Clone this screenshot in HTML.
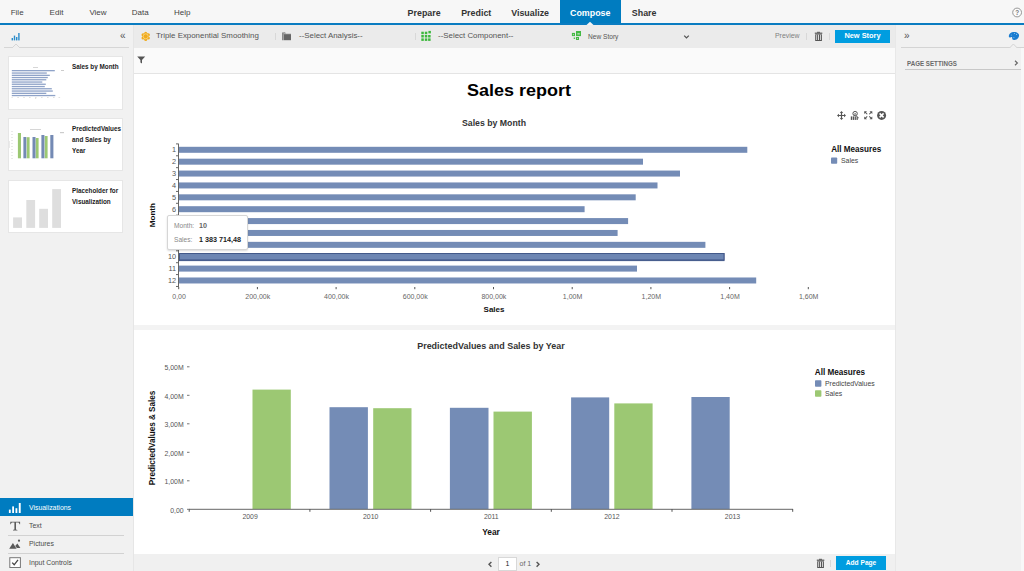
<!DOCTYPE html>
<html><head><meta charset="utf-8">
<style>
*{box-sizing:border-box;margin:0;padding:0}
html,body{width:1024px;height:571px;overflow:hidden;background:#f0f0f0;font-family:"Liberation Sans",sans-serif;font-size:8px;color:#333}
.abs{position:absolute}
#menubar{left:0;top:0;width:1024px;height:23px;background:#f7f7f7}
#blueline{left:0;top:23px;width:1024px;height:2px;background:#0a7cc1}
.menu{top:7.6px;font-size:8px;color:#444}
.tab{top:7.5px;font-size:8.9px;font-weight:bold;color:#333;line-height:11px}
#compose{left:560px;top:0;width:61px;height:24px;background:#007cc0}
#leftpanel{left:0;top:25px;width:133px;height:546px;background:#f1f1f1}
#toolbar{left:133px;top:25px;width:762px;height:23px;background:#ebebeb}
#filterbar{left:133px;top:48px;width:762px;height:26px;background:#fafafa;border-bottom:1px solid #e4e4e4}
#canvas{left:134px;top:74px;width:761px;height:480px;background:#fff}
#divider{left:134px;top:324.5px;width:761px;height:5.5px;background:#f3f3f3}
#bottombar{left:133px;top:554.5px;width:762px;height:17px;background:#f0f0f0}
#rightpanel{left:895px;top:25px;width:129px;height:546px;background:#f1f1f1}
.card{left:8px;width:115px;height:53px;background:#fff;border:1px solid #e6e6e6}
.tbt{top:31.2px;font-size:7.9px;color:#555;white-space:nowrap}
.sep{top:33px;width:1px;height:7px;background:#d8d8d8}
.ll{font-size:6.9px;color:#4a4a4a;white-space:nowrap}
.lsep{left:8px;width:116px;height:1px;background:#d2d2d2}
.cardt{font-size:6.35px;font-weight:bold;color:#222;line-height:11px}
</style></head><body>
<div class="abs" id="menubar"></div>
<div class="abs menu" style="left:10.7px">File</div>
<div class="abs menu" style="left:49.6px">Edit</div>
<div class="abs menu" style="left:89.4px">View</div>
<div class="abs menu" style="left:131.8px">Data</div>
<div class="abs menu" style="left:174px">Help</div>
<div class="abs" id="compose"></div>
<div class="abs tab" style="left:407.6px">Prepare</div>
<div class="abs tab" style="left:461.2px">Predict</div>
<div class="abs tab" style="left:511.2px">Visualize</div>
<div class="abs tab" style="left:570px;color:#fff">Compose</div>
<div class="abs tab" style="left:631.8px">Share</div>
<div class="abs" id="blueline"></div>
<svg class="abs" style="left:1011px;top:6px" width="13" height="13" viewBox="0 0 13 13" font-family="Liberation Sans, sans-serif"><circle cx="6.1" cy="6.5" r="4.4" fill="#fbfbfb" stroke="#8a8a8a" stroke-width="0.9"/><text x="6.1" y="8.8" font-size="6.4" font-weight="bold" fill="#777" text-anchor="middle">?</text></svg>
<svg class="abs" style="left:586px;top:21px" width="8" height="4" viewBox="0 0 8 4"><path d="M0.5 4 L4 0.8 L7.5 4 Z" fill="#f4f4f4"/></svg>
<div class="abs" id="leftpanel"></div>

<!-- left panel content -->
<svg class="abs" style="left:11px;top:32px" width="10" height="9" viewBox="0 0 10 9"><g fill="#2a8ccb"><rect x="0.6" y="6" width="1.4" height="2.4"/><rect x="2.8" y="3.6" width="1.4" height="4.8"/><rect x="5" y="5" width="1.4" height="3.4"/><rect x="7.2" y="1" width="1.4" height="7.4"/></g></svg>
<div class="abs" style="left:120px;top:30px;font-size:10px;color:#555">&laquo;</div>
<div class="abs" style="left:4px;top:47px;width:125px;height:1px;background:#d6d6d6"></div>
<svg class="abs" style="left:12px;top:43px" width="8" height="5" viewBox="0 0 8 5"><path d="M0 5 L4 1 L8 5" fill="#f0f0f0" stroke="#d6d6d6" stroke-width="1"/></svg>
<div class="abs card" style="top:56px;height:54px"></div>
<div class="abs card" style="top:118px"></div>
<div class="abs card" style="top:180px"></div>
<div class="abs cardt" style="left:72px;top:61px">Sales by Month</div>
<div class="abs cardt" style="left:72px;top:123px">PredictedValues<br>and Sales by<br>Year</div>
<div class="abs cardt" style="left:72px;top:185px">Placeholder for<br>Visualization</div>
<svg class="abs" style="left:8px;top:56px" width="64" height="52" viewBox="0 0 64 52">
<g fill="#8fa3c8">
<rect x="3.8" y="14" width="43" height="1.3"/>
<rect x="3.8" y="16.4" width="35" height="1.3"/>
<rect x="3.8" y="18.7" width="38" height="1.3"/>
<rect x="3.8" y="20.9" width="36" height="1.3"/>
<rect x="3.8" y="23.1" width="34.5" height="1.3"/>
<rect x="3.8" y="25.4" width="30.5" height="1.3"/>
<rect x="3.8" y="27.6" width="34" height="1.3"/>
<rect x="3.8" y="29.9" width="33" height="1.3"/>
<rect x="3.8" y="32.1" width="40" height="1.3"/>
<rect x="3.8" y="34.4" width="41" height="1.3"/>
<rect x="3.8" y="36.7" width="34.5" height="1.3"/>
<rect x="3.8" y="38.9" width="43.5" height="1.3"/>
</g>
<rect x="25" y="11" width="5" height="0.6" fill="#bbb"/>
<rect x="53" y="14" width="3" height="1" fill="#ccc"/>
<g fill="#ccc"><rect x="3.5" y="41.2" width="1.2" height="0.6"/><rect x="9.3" y="41.2" width="1.6" height="0.6"/><rect x="15.2" y="41.2" width="1.6" height="0.6"/><rect x="21" y="41.2" width="1.6" height="0.6"/><rect x="27" y="41.2" width="1.6" height="0.6"/><rect x="33" y="41.2" width="1.6" height="0.6"/><rect x="39" y="41.2" width="1.6" height="0.6"/><rect x="45" y="41.2" width="1.6" height="0.6"/><rect x="50.5" y="41.2" width="1.6" height="0.6"/><rect x="27" y="42.4" width="1.2" height="0.6"/></g>
</svg>
<svg class="abs" style="left:8px;top:118px" width="64" height="52" viewBox="0 0 64 52">
<g fill="#9cc873">
<rect x="9.9" y="15" width="3.1" height="25.3"/>
<rect x="18.7" y="19.2" width="2.9" height="21.1"/>
<rect x="27.7" y="20" width="2.9" height="20.3"/>
<rect x="36.7" y="18" width="2.9" height="22.3"/>
</g>
<g fill="#748ab4">
<rect x="15.4" y="19" width="2.9" height="21.3"/>
<rect x="24.5" y="19" width="3" height="21.3"/>
<rect x="33.4" y="17" width="3" height="23.3"/>
<rect x="42.3" y="17" width="3.1" height="23.3"/>
</g>
<rect x="22" y="11" width="11" height="0.6" fill="#bbb"/>
<rect x="52" y="14" width="4" height="1.2" fill="#ccc"/>
<g fill="#ddd"><rect x="3" y="13" width="2" height="0.6"/><rect x="3" y="16" width="2" height="0.6"/><rect x="3" y="19" width="2" height="0.6"/><rect x="3" y="22" width="2" height="0.6"/><rect x="3" y="25" width="2" height="0.6"/><rect x="3" y="28" width="2" height="0.6"/><rect x="3" y="31" width="2" height="0.6"/><rect x="3" y="34" width="2" height="0.6"/><rect x="3" y="37" width="2" height="0.6"/><rect x="3" y="40" width="2" height="0.6"/><rect x="1.2" y="23" width="0.6" height="7"/></g>
</svg>
<svg class="abs" style="left:8px;top:180px" width="64" height="52" viewBox="0 0 64 52">
<g fill="#dedede">
<rect x="5.1" y="37.4" width="8.9" height="10.5"/>
<rect x="18.3" y="20" width="8.8" height="27.9"/>
<rect x="31.2" y="28.8" width="8.8" height="19.1"/>
<rect x="44.2" y="9.1" width="8.8" height="38.8"/>
</g></svg>
<div class="abs" id="toolbar"></div>

<!-- toolbar content -->
<svg class="abs" style="left:140px;top:30px" width="12" height="12" viewBox="0 0 12 12"><g fill="#f0ab1c"><circle cx="5.7" cy="6.3" r="3.2"/><circle cx="5.7" cy="3.2" r="1.5"/><circle cx="5.7" cy="9.4" r="1.5"/><circle cx="3" cy="4.7" r="1.5"/><circle cx="8.4" cy="4.7" r="1.5"/><circle cx="3" cy="7.9" r="1.5"/><circle cx="8.4" cy="7.9" r="1.5"/></g><circle cx="5.7" cy="6.3" r="2.5" fill="none" stroke="#f9dc9c" stroke-width="0.7"/></svg>
<div class="abs tbt" style="left:156px">Triple Exponential Smoothing</div>
<div class="abs sep" style="left:275px"></div>
<svg class="abs" style="left:282px;top:32px" width="10" height="9" viewBox="0 0 10 9"><path d="M0 0.6 L0 8.2 L1.6 8.2 L1.6 1.6 L4 1.6 L3 0.2 Z" fill="#8a8a8a"/><rect x="1.8" y="1.9" width="7.2" height="6.3" fill="#666"/><rect x="1.8" y="1.9" width="7.2" height="1" fill="#7a7a7a"/></svg>
<div class="abs tbt" style="left:299px">--Select Analysis--</div>
<div class="abs sep" style="left:415px"></div>
<svg class="abs" style="left:421px;top:30px" width="11" height="12" viewBox="0 0 11 12"><g fill="#3cb83c"><rect x="0.3" y="1.7" width="2.5" height="2.5"/><rect x="3.8" y="1.7" width="2.5" height="2.5"/><rect x="7.4" y="0.9" width="2.5" height="2.5"/><rect x="0.3" y="5" width="2.5" height="2.5"/><rect x="3.8" y="5" width="2.5" height="2.5"/><rect x="7.1" y="5" width="2.5" height="2.5"/><rect x="0.3" y="8.4" width="2.5" height="2.5"/><rect x="3.8" y="8.4" width="2.5" height="2.5"/><rect x="7.1" y="8.4" width="2.5" height="2.5"/></g></svg>
<div class="abs tbt" style="left:438px">--Select Component--</div>
<svg class="abs" style="left:571px;top:30px" width="11" height="11" viewBox="0 0 11 11"><g fill="#44b944"><rect x="5" y="1" width="5" height="5.1"/><rect x="0.9" y="2.9" width="3.1" height="3.2"/><rect x="5" y="7" width="3" height="3"/><rect x="2.7" y="7.5" width="1.4" height="1.4"/></g><g fill="#a4dca4"><rect x="6.4" y="3" width="2.4" height="1.6"/><rect x="1.9" y="4" width="1.1" height="1.2"/><rect x="6" y="8" width="1" height="1"/></g></svg>
<div class="abs" style="left:588px;top:32.7px;font-size:6.6px;color:#555">New Story</div>
<svg class="abs" style="left:683px;top:34px" width="7" height="6" viewBox="0 0 7 6"><path d="M1.2 1.6 L3.5 3.9 L5.8 1.6" fill="none" stroke="#555" stroke-width="1.3"/></svg>
<div class="abs" style="left:775px;top:32px;font-size:6.9px;color:#808080">Preview</div>
<div class="abs sep" style="left:806px"></div>
<svg class="abs" style="left:814px;top:31px" width="9" height="11" viewBox="0 0 9 11"><g fill="#555"><rect x="3" y="0.8" width="3" height="1"/><rect x="0.8" y="1.6" width="7.5" height="1.2"/><path d="M1.2 3.2 H7.9 V9.9 H1.2 Z M2.3 3.8 V9 H3.1 V3.8 Z M4.1 3.8 V9 H5 V3.8 Z M6 3.8 V9 H6.8 V3.8 Z" fill-rule="evenodd"/></g></svg>
<div class="abs sep" style="left:829px"></div>
<div class="abs" style="left:835px;top:30px;width:55px;height:13px;background:#009de0;color:#fff;font-weight:bold;font-size:7.4px;text-align:center;line-height:12.6px">New Story</div>
<div class="abs" id="filterbar"></div>
<div class="abs" id="canvas"></div>
<div class="abs" id="divider"></div>
<svg class="abs" style="left:0;top:0" width="1024" height="571" viewBox="0 0 1024 571" font-family="Liberation Sans, sans-serif">
<text x="467" y="96" font-size="17.4" font-weight="bold" fill="#000" textLength="104" lengthAdjust="spacingAndGlyphs">Sales report</text>
<text x="462" y="126" font-size="9.1" font-weight="bold" fill="#333" textLength="64" lengthAdjust="spacingAndGlyphs">Sales by Month</text>
<rect x="179.5" y="253.6" width="544.5" height="7" fill="#6d86b3" stroke="#44598a" stroke-width="1"/>
<rect x="179" y="146.80" width="568.3" height="6" fill="#748cb6"/>
<rect x="179" y="158.68" width="464.0" height="6" fill="#748cb6"/>
<rect x="179" y="170.56" width="501.0" height="6" fill="#748cb6"/>
<rect x="179" y="182.44" width="478.5" height="6" fill="#748cb6"/>
<rect x="179" y="194.32" width="456.7" height="6" fill="#748cb6"/>
<rect x="179" y="206.20" width="405.6" height="6" fill="#748cb6"/>
<rect x="179" y="218.08" width="449.1" height="6" fill="#748cb6"/>
<rect x="179" y="229.96" width="438.6" height="6" fill="#748cb6"/>
<rect x="179" y="241.84" width="526.4" height="6" fill="#748cb6"/>
<rect x="179.5" y="253.52" width="544.5" height="6.4" fill="#6d86b3" stroke="#44598a" stroke-width="1"/>
<rect x="179" y="265.60" width="458.0" height="6" fill="#748cb6"/>
<rect x="179" y="277.48" width="577.2" height="6" fill="#748cb6"/>
<rect x="176" y="143.40" width="2" height="1" fill="#666"/>
<rect x="176" y="155.28" width="2" height="1" fill="#666"/>
<rect x="176" y="167.16" width="2" height="1" fill="#666"/>
<rect x="176" y="179.04" width="2" height="1" fill="#666"/>
<rect x="176" y="190.92" width="2" height="1" fill="#666"/>
<rect x="176" y="202.80" width="2" height="1" fill="#666"/>
<rect x="176" y="214.68" width="2" height="1" fill="#666"/>
<rect x="176" y="226.56" width="2" height="1" fill="#666"/>
<rect x="176" y="238.44" width="2" height="1" fill="#666"/>
<rect x="176" y="250.32" width="2" height="1" fill="#666"/>
<rect x="176" y="262.20" width="2" height="1" fill="#666"/>
<rect x="176" y="274.08" width="2" height="1" fill="#666"/>
<rect x="176" y="285.96" width="2" height="1" fill="#666"/>
<text x="176" y="152.30" font-size="7.3" fill="#555" text-anchor="end">1</text>
<text x="176" y="164.18" font-size="7.3" fill="#555" text-anchor="end">2</text>
<text x="176" y="176.06" font-size="7.3" fill="#555" text-anchor="end">3</text>
<text x="176" y="187.94" font-size="7.3" fill="#555" text-anchor="end">4</text>
<text x="176" y="199.82" font-size="7.3" fill="#555" text-anchor="end">5</text>
<text x="176" y="211.70" font-size="7.3" fill="#555" text-anchor="end">6</text>
<text x="176" y="223.58" font-size="7.3" fill="#555" text-anchor="end">7</text>
<text x="176" y="235.46" font-size="7.3" fill="#555" text-anchor="end">8</text>
<text x="176" y="247.34" font-size="7.3" fill="#555" text-anchor="end">9</text>
<text x="176" y="259.22" font-size="7.3" fill="#555" text-anchor="end">10</text>
<text x="176" y="271.10" font-size="7.3" fill="#555" text-anchor="end">11</text>
<text x="176" y="282.98" font-size="7.3" fill="#555" text-anchor="end">12</text>
<rect x="178" y="143.5" width="1" height="143.5" fill="#666"/>
<rect x="178.2" y="287" width="1" height="2.2" fill="#555"/>
<text x="179.1" y="299" font-size="7" fill="#666" text-anchor="middle">0,00</text>
<rect x="256.9" y="287" width="1" height="2.2" fill="#555"/>
<text x="257.8" y="299" font-size="7" fill="#666" text-anchor="middle">200,00k</text>
<rect x="335.6" y="287" width="1" height="2.2" fill="#555"/>
<text x="336.5" y="299" font-size="7" fill="#666" text-anchor="middle">400,00k</text>
<rect x="414.3" y="287" width="1" height="2.2" fill="#555"/>
<text x="415.2" y="299" font-size="7" fill="#666" text-anchor="middle">600,00k</text>
<rect x="493.0" y="287" width="1" height="2.2" fill="#555"/>
<text x="493.9" y="299" font-size="7" fill="#666" text-anchor="middle">800,00k</text>
<rect x="571.7" y="287" width="1" height="2.2" fill="#555"/>
<text x="572.6" y="299" font-size="7" fill="#666" text-anchor="middle">1,00M</text>
<rect x="650.4" y="287" width="1" height="2.2" fill="#555"/>
<text x="651.3" y="299" font-size="7" fill="#666" text-anchor="middle">1,20M</text>
<rect x="729.1" y="287" width="1" height="2.2" fill="#555"/>
<text x="730.0" y="299" font-size="7" fill="#666" text-anchor="middle">1,40M</text>
<rect x="807.8" y="287" width="1" height="2.2" fill="#555"/>
<text x="808.7" y="299" font-size="7" fill="#666" text-anchor="middle">1,60M</text>
<text x="494" y="312.3" font-size="8" font-weight="bold" fill="#111" text-anchor="middle">Sales</text>
<text transform="translate(155.2,227.3) rotate(-90)" font-size="7.7" font-weight="bold" fill="#111" textLength="24.3" lengthAdjust="spacingAndGlyphs">Month</text>
<text x="831.2" y="151.8" font-size="8.6" font-weight="bold" fill="#111" textLength="50" lengthAdjust="spacingAndGlyphs">All Measures</text>
<rect x="831" y="157.5" width="6.2" height="6.2" rx="0.8" fill="#748cb6"/>
<text x="841" y="162.8" font-size="7" fill="#444" textLength="17.2" lengthAdjust="spacingAndGlyphs">Sales</text>
<text x="417.2" y="348.8" font-size="9.1" font-weight="bold" fill="#333" textLength="147.5" lengthAdjust="spacingAndGlyphs">PredictedValues and Sales by Year</text>
<rect x="252.5" y="389.6" width="38.3" height="119.4" fill="#9cc873"/>
<rect x="329.5" y="407.2" width="38.4" height="101.8" fill="#748cb6"/>
<rect x="373.2" y="408.2" width="38.3" height="100.8" fill="#9cc873"/>
<rect x="449.9" y="407.8" width="38.6" height="101.2" fill="#748cb6"/>
<rect x="493.5" y="411.6" width="38.4" height="97.4" fill="#9cc873"/>
<rect x="571.1" y="397.4" width="38.1" height="111.6" fill="#748cb6"/>
<rect x="614.3" y="403.4" width="38.3" height="105.6" fill="#9cc873"/>
<rect x="691.4" y="397" width="38.3" height="112.0" fill="#748cb6"/>
<rect x="189" y="508.8" width="604" height="1" fill="#666"/>
<rect x="188.7" y="509" width="1" height="2.8" fill="#555"/>
<rect x="309.4" y="509" width="1" height="2.8" fill="#555"/>
<rect x="430.1" y="509" width="1" height="2.8" fill="#555"/>
<rect x="550.8" y="509" width="1" height="2.8" fill="#555"/>
<rect x="671.5" y="509" width="1" height="2.8" fill="#555"/>
<rect x="792.2" y="509" width="1" height="2.8" fill="#555"/>
<text x="250.1" y="519" font-size="6.9" fill="#555" text-anchor="middle">2009</text>
<text x="370.7" y="519" font-size="6.9" fill="#555" text-anchor="middle">2010</text>
<text x="491.3" y="519" font-size="6.9" fill="#555" text-anchor="middle">2011</text>
<text x="611.9" y="519" font-size="6.9" fill="#555" text-anchor="middle">2012</text>
<text x="732.5" y="519" font-size="6.9" fill="#555" text-anchor="middle">2013</text>
<rect x="187" y="508.8" width="2.5" height="1" fill="#777"/>
<text x="183.7" y="512.6" font-size="6.9" fill="#555" text-anchor="end">0,00</text>
<rect x="187" y="480.3" width="2.5" height="1" fill="#777"/>
<text x="183.7" y="484.1" font-size="6.9" fill="#555" text-anchor="end">1,00M</text>
<rect x="187" y="451.8" width="2.5" height="1" fill="#777"/>
<text x="183.7" y="455.6" font-size="6.9" fill="#555" text-anchor="end">2,00M</text>
<rect x="187" y="423.3" width="2.5" height="1" fill="#777"/>
<text x="183.7" y="427.1" font-size="6.9" fill="#555" text-anchor="end">3,00M</text>
<rect x="187" y="394.8" width="2.5" height="1" fill="#777"/>
<text x="183.7" y="398.6" font-size="6.9" fill="#555" text-anchor="end">4,00M</text>
<rect x="187" y="366.3" width="2.5" height="1" fill="#777"/>
<text x="183.7" y="370.1" font-size="6.9" fill="#555" text-anchor="end">5,00M</text>
<text x="491" y="535" font-size="8.4" font-weight="bold" fill="#111" text-anchor="middle">Year</text>
<text transform="translate(154.8,485.2) rotate(-90)" font-size="8.2" font-weight="bold" fill="#111" textLength="94.6" lengthAdjust="spacingAndGlyphs">PredictedValues &amp; Sales</text>
<text x="814.8" y="374.8" font-size="8.6" font-weight="bold" fill="#111" textLength="50.3" lengthAdjust="spacingAndGlyphs">All Measures</text>
<rect x="815" y="380.3" width="6.4" height="6.4" rx="0.8" fill="#748cb6"/>
<text x="825" y="385.9" font-size="7" fill="#444" textLength="49.7" lengthAdjust="spacingAndGlyphs">PredictedValues</text>
<rect x="815" y="390.3" width="6.4" height="6.4" rx="0.8" fill="#9cc873"/>
<text x="825" y="395.8" font-size="7" fill="#444" textLength="17.1" lengthAdjust="spacingAndGlyphs">Sales</text>
</svg>
<div class="abs" style="left:167px;top:214.7px;width:80.5px;height:35.3px;background:#fff;border:1px solid #d6d6d6;border-radius:2px;box-shadow:0 1px 2px rgba(0,0,0,0.15)"></div>
<div class="abs" style="left:174px;top:222px;font-size:6.6px;color:#888">Month:</div>
<div class="abs" style="left:199px;top:220.8px;font-size:7.2px;color:#666;font-weight:bold">10</div>
<div class="abs" style="left:174px;top:236px;font-size:6.6px;color:#888">Sales:</div>
<div class="abs" style="left:199px;top:234.8px;font-size:7.2px;color:#222;font-weight:bold">1 383 714,48</div>
<div class="abs" id="bottombar"></div>
<div class="abs" id="rightpanel"></div>
<div class="abs" style="left:133px;top:25px;width:1px;height:546px;background:#e6e6e6"></div>
<div class="abs" style="left:895px;top:25px;width:1px;height:546px;background:#e8e8e8"></div>

<!-- filter icon -->
<svg class="abs" style="left:137px;top:56px" width="9" height="8" viewBox="0 0 9 8"><path d="M0.2 0.6 H8.2 L5 4 V7.4 L3.4 6.4 V4 Z" fill="#555"/></svg>
<!-- chart tool icons -->
<svg class="abs" style="left:836px;top:110px" width="52" height="11" viewBox="0 0 52 11">
<g fill="#555" stroke="none">
<path d="M5.5 1 L7.2 3 H6.1 V4.9 H8 V3.8 L10 5.5 L8 7.2 V6.1 H6.1 V8 H7.2 L5.5 10 L3.8 8 H4.9 V6.1 H3 V7.2 L1 5.5 L3 3.8 V4.9 H4.9 V3 H3.8 Z"/>
<rect x="14.8" y="6.4" width="1.3" height="3.5"/><rect x="16.7" y="6.4" width="1.3" height="3.5"/><rect x="18.6" y="6.4" width="1.3" height="3.5"/><rect x="20.5" y="7.2" width="1.3" height="2.7"/>
<path d="M20.5 5.5 L22.8 7.8 L22.2 8.4 L19.9 6.1 Z"/>
<path d="M28.2 1.3 H31 L30 2.3 L31.6 3.9 L30.9 4.6 L29.3 3 L28.2 4.1 Z"/>
<path d="M36.3 1.3 H33.5 L34.5 2.3 L32.9 3.9 L33.6 4.6 L35.2 3 L36.3 4.1 Z"/>
<path d="M28.2 9.3 H31 L30 8.3 L31.6 6.7 L30.9 6 L29.3 7.6 L28.2 6.5 Z"/>
<path d="M36.3 9.3 H33.5 L34.5 8.3 L32.9 6.7 L33.6 6 L35.2 7.6 L36.3 6.5 Z"/>
<circle cx="45.6" cy="5.4" r="4.5"/>
</g>
<circle cx="19.1" cy="3.6" r="2.2" fill="#fff" stroke="#555" stroke-width="1"/>
<path d="M17.9 4.6 L19.1 2.8 L20.3 4.6 Z" fill="#555"/>
<path d="M43.6 3.4 L47.6 7.4 M47.6 3.4 L43.6 7.4" stroke="#fff" stroke-width="1.5"/>
</svg>
<!-- left bottom list -->
<div class="abs" style="left:0;top:498.4px;width:133px;height:17.8px;background:#007cc0"></div>
<svg class="abs" style="left:8px;top:502px" width="14" height="12" viewBox="0 0 14 12"><g fill="#fff"><rect x="0.9" y="7.6" width="1.8" height="3.4"/><rect x="4.2" y="4.4" width="1.8" height="6.6"/><rect x="7.5" y="6.2" width="1.8" height="4.8"/><rect x="10.8" y="1" width="1.9" height="10"/></g></svg>
<div class="abs ll" style="left:29px;top:503.7px;color:#fff">Visualizations</div>
<svg class="abs" style="left:10px;top:521px" width="11" height="10" viewBox="0 0 11 10"><path d="M0.3 0.7 H10.1 V3.2 H9.5 C9.3 2.2 8.8 1.6 7.8 1.6 H6 V8 C6 8.6 6.4 8.8 7.4 8.9 V9.4 H3 V8.9 C4 8.8 4.4 8.6 4.4 8 V1.6 H2.6 C1.6 1.6 1.1 2.2 0.9 3.2 H0.3 Z" fill="#5a5a5a"/></svg>
<div class="abs ll" style="left:29px;top:521.9px">Text</div>
<div class="abs lsep" style="top:535px"></div>
<svg class="abs" style="left:9px;top:539px" width="12" height="10" viewBox="0 0 12 10"><g fill="#5a5a5a"><path d="M0.2 9.8 L3.9 4 L7.6 9.8 Z"/><path d="M6.2 7 L8.4 4.6 L11.4 9 L7.9 9 Z"/><circle cx="10" cy="1.7" r="1.1"/></g></svg>
<div class="abs ll" style="left:29px;top:540px">Pictures</div>
<div class="abs lsep" style="top:553px"></div>
<svg class="abs" style="left:9px;top:557px" width="12" height="11" viewBox="0 0 12 11"><rect x="0.8" y="0.7" width="10.6" height="9.8" fill="#fff" stroke="#777" stroke-width="1"/><path d="M3.2 5.6 L5.2 7.8 L9 2.8" fill="none" stroke="#444" stroke-width="1.3"/></svg>
<div class="abs ll" style="left:29px;top:558.8px">Input Controls</div>
<!-- right panel content -->
<div class="abs" style="left:904px;top:29.5px;font-size:10px;color:#555">&raquo;</div>
<svg class="abs" style="left:1008px;top:31px" width="12" height="10" viewBox="0 0 12 10"><path d="M0.8 5.5 C0.6 3.5 2.5 1.6 5 1.1 C8 0.5 11.2 2 11.1 4.5 C11 7 8.8 8.6 6.5 9 C5 9.3 4 8.5 4.2 7.3 C4.4 6.3 3.8 5.8 2.8 6.3 C1.8 6.9 0.9 6.6 0.8 5.5 Z" fill="#1a7cd0"/><g fill="#8cc4ee"><circle cx="6.5" cy="2.5" r="0.6"/><circle cx="8.6" cy="3.4" r="0.55"/><circle cx="3.3" cy="4" r="0.5"/><circle cx="5.9" cy="6.6" r="0.55"/></g></svg>
<div class="abs" style="left:901px;top:47px;width:123px;height:1px;background:#d4d4d4"></div>
<svg class="abs" style="left:1009px;top:43px" width="9" height="5" viewBox="0 0 9 5"><path d="M0.5 5 L4.4 1 L8.3 5" fill="#f1f1f1" stroke="#d4d4d4" stroke-width="1"/></svg>
<div class="abs" style="left:1021px;top:48px;width:3px;height:523px;background:#f8f8f8"></div>
<div class="abs" id="pgs" style="left:906.5px;top:58.6px;font-size:7.3px;font-weight:bold;color:#6a6a6a;transform-origin:0 0;transform:scaleX(0.85);white-space:nowrap">PAGE SETTINGS</div>
<svg class="abs" style="left:1014px;top:60px" width="5" height="6" viewBox="0 0 5 6"><path d="M1 0.8 L3.4 3 L1 5.2" fill="none" stroke="#666" stroke-width="1.2"/></svg>
<div class="abs" style="left:905px;top:69px;width:116px;height:1px;background:#c8c8c8"></div>
<!-- bottom bar content -->
<svg class="abs" style="left:487px;top:560px" width="6" height="8" viewBox="0 0 6 8"><path d="M4.4 1.9 L2 4.3 L4.4 6.7" fill="none" stroke="#555" stroke-width="1.4"/></svg>
<div class="abs" style="left:498px;top:557px;width:19px;height:14px;background:#fff;border:1px solid #d8d8d8;font-size:7px;text-align:center;line-height:12px;color:#222">1</div>
<div class="abs" style="left:519.5px;top:559.5px;font-size:7px;color:#666">of 1</div>
<svg class="abs" style="left:535px;top:560px" width="6" height="8" viewBox="0 0 6 8"><path d="M1.6 1.9 L4 4.3 L1.6 6.7" fill="none" stroke="#555" stroke-width="1.4"/></svg>
<svg class="abs" style="left:816px;top:557.5px" width="9" height="11" viewBox="0 0 9 11"><g fill="#555"><rect x="3" y="0.8" width="3" height="1"/><rect x="0.8" y="1.6" width="7.5" height="1.2"/><path d="M1.2 3.2 H7.9 V9.9 H1.2 Z M2.3 3.8 V9 H3.1 V3.8 Z M4.1 3.8 V9 H5 V3.8 Z M6 3.8 V9 H6.8 V3.8 Z" fill-rule="evenodd"/></g></svg>
<div class="abs" style="left:830px;top:560px;width:1px;height:7px;background:#d8d8d8"></div>
<div class="abs" style="left:836.3px;top:556.4px;width:49.5px;height:13.2px;background:#009de0;color:#fff;font-weight:bold;font-size:6.6px;text-align:center;line-height:13.6px">Add Page</div>
</body></html>
